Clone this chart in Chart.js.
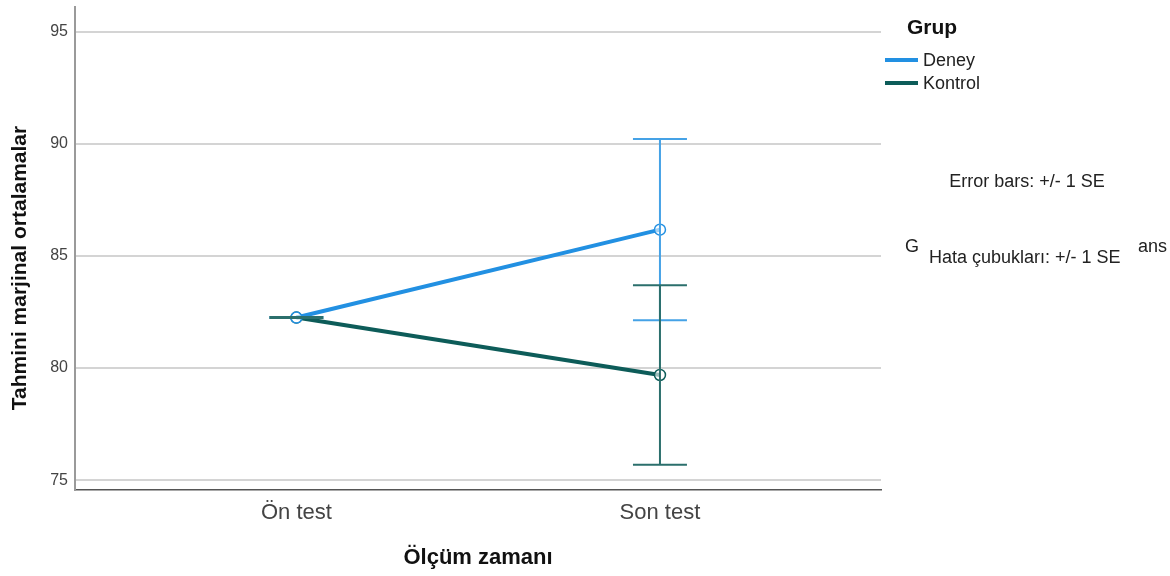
<!DOCTYPE html>
<html>
<head>
<meta charset="utf-8">
<script src="https://cdn.jsdelivr.net/npm/chart.js@4/dist/chart.umd.min.js"></script>
<style>
  html, body { margin: 0; padding: 0; background: #ffffff; }
  #wrap { width: 1170px; height: 576px; }
</style>
</head>
<body>
<div id="wrap"><canvas id="c" width="1170" height="576"></canvas></div>
<script>
// Estimated marginal means by measurement time and group, with +/- 1 SE
const categories = ['Ön test', 'Son test'];
const deneyMeans = [82.25, 86.17];
const kontrolMeans = [82.25, 79.69];
const deneySE = [0.02, 4.04];
const kontrolSE = [0.02, 4.00];
const yTicks = [75, 80, 85, 90, 95];

const groupLabels = ['Deney', 'Kontrol'];
const legendTitle = 'Grup';
const xTitle = 'Ölçüm zamanı';
const yTitle = 'Tahmini marjinal ortalamalar';
const noteEn = 'Error bars: +/- 1 SE';
const noteTr = 'Hata çubukları: +/- 1 SE';

const FONT = '"Liberation Sans", Arial, sans-serif';
const DENEY = '#2290e2';
const KONTROL = '#0d5c59';
const DENEY_ERR = '#45a2e6';
const KONTROL_ERR = '#2b6f6c';

const toPoints = arr => arr.map((v, i) => ({ x: i, y: v }));

// Error bars (mean +/- SE) drawn through the chart scales
const errorBars = {
  id: 'errorBars',
  afterDatasetsDraw(chart) {
    const { ctx, scales: { x, y } } = chart;
    const sets = [
      { means: deneyMeans, se: deneySE, color: DENEY_ERR },
      { means: kontrolMeans, se: kontrolSE, color: KONTROL_ERR }
    ];
    ctx.save();
    ctx.lineWidth = 2;
    sets.forEach(s => {
      ctx.strokeStyle = s.color;
      s.means.forEach((m, i) => {
        const px = x.getPixelForValue(i);
        const hi = y.getPixelForValue(m + s.se[i]);
        const lo = y.getPixelForValue(m - s.se[i]);
        const cap = 27;
        ctx.beginPath();
        ctx.moveTo(px, hi); ctx.lineTo(px, lo);
        ctx.moveTo(px - cap, hi); ctx.lineTo(px + cap, hi);
        ctx.moveTo(px - cap, lo); ctx.lineTo(px + cap, lo);
        ctx.stroke();
      });
    });
    ctx.restore();
  }
};

// Axis titles, legend and notes in the right margin
const annotations = {
  id: 'annotations',
  afterDraw(chart) {
    const { ctx } = chart;
    ctx.save();
    ctx.fillStyle = '#111';
    ctx.textBaseline = 'middle';

    // axis titles
    ctx.font = 'bold 22px ' + FONT;
    ctx.textAlign = 'center';
    ctx.fillText(xTitle, 478, 558);
    ctx.save();
    ctx.font = 'bold 21px ' + FONT;
    ctx.translate(20, 268);
    ctx.rotate(-Math.PI / 2);
    ctx.fillText(yTitle, 0, 0);
    ctx.restore();

    // legend
    ctx.textAlign = 'left';
    ctx.font = 'bold 21px ' + FONT;
    ctx.fillText(legendTitle, 907, 28);
    const colors = [DENEY, KONTROL];
    const rows = [61, 84];
    ctx.font = '18px ' + FONT;
    groupLabels.forEach((lab, i) => {
      ctx.strokeStyle = colors[i];
      ctx.lineWidth = 4;
      ctx.beginPath();
      ctx.moveTo(885, rows[i] - 1);
      ctx.lineTo(918, rows[i] - 1);
      ctx.stroke();
      ctx.fillStyle = '#222';
      ctx.fillText(lab, 923, rows[i]);
    });

    // notes
    ctx.fillStyle = '#222';
    ctx.font = '18px ' + FONT;
    ctx.textAlign = 'center';
    ctx.fillText(noteEn, 1027, 182);
    ctx.textAlign = 'left';
    ctx.fillText('G', 905, 247);
    ctx.fillText('ans', 1138, 247);
    ctx.fillText(noteTr, 929, 258);
    ctx.restore();
  }
};

new Chart(document.getElementById('c'), {
  type: 'line',
  data: {
    datasets: [
      {
        label: groupLabels[0],
        data: toPoints(deneyMeans),
        borderColor: DENEY,
        borderWidth: 4,
        pointRadius: 5.5,
        pointBorderWidth: 1.5,
        pointBackgroundColor: 'rgba(255,255,255,0.6)',
        pointBorderColor: DENEY,
        tension: 0
      },
      {
        label: groupLabels[1],
        data: toPoints(kontrolMeans),
        borderColor: KONTROL,
        borderWidth: 4,
        pointRadius: 5.5,
        pointBorderWidth: 1.5,
        pointBackgroundColor: 'rgba(255,255,255,0.6)',
        pointBorderColor: KONTROL,
        tension: 0
      }
    ]
  },
  options: {
    responsive: false,
    animation: false,
    devicePixelRatio: 1,
    layout: { padding: { top: 5, right: 289, left: 0, bottom: 0 } },
    plugins: {
      legend: { display: false },
      tooltip: { enabled: false }
    },
    scales: {
      x: {
        type: 'linear',
        min: -0.609,
        max: 1.608,
        afterBuildTicks: s => { s.ticks = categories.map((_, i) => ({ value: i })); },
        afterFit: s => { s.height = 86; s.paddingLeft = 0; s.paddingRight = 0; },
        ticks: {
          callback: v => categories[v],
          font: { family: FONT, size: 22 },
          color: '#444',
          padding: 10,
          maxRotation: 0
        },
        grid: { color: 'transparent', drawTicks: false },
        border: { display: true, color: '#555', width: 1.5 }
      },
      y: {
        min: 74.56,
        max: 96.1,
        afterBuildTicks: s => { s.ticks = yTicks.map(v => ({ value: v })); },
        afterFit: s => { s.width = 75; s.paddingTop = 0; s.paddingBottom = 0; },
        ticks: {
          font: { family: FONT, size: 16 },
          color: '#444',
          padding: 7
        },
        grid: { color: '#d4d4d4', lineWidth: 2, drawTicks: false },
        border: { display: true, color: '#9a9a9a', width: 2 }
      }
    }
  },
  plugins: [errorBars, annotations]
});
</script>
</body>
</html>
